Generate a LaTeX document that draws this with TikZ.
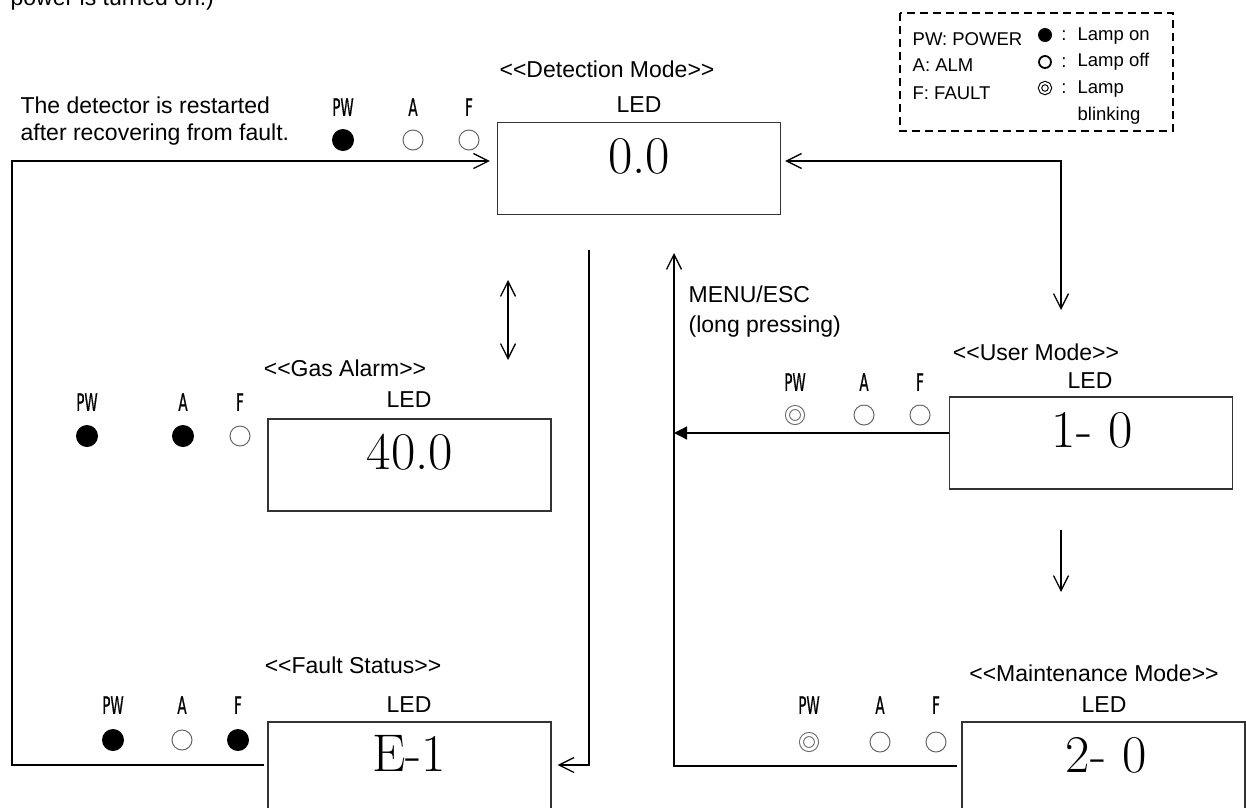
\documentclass[tikz,border=0pt]{standalone}
\usepackage{fontspec}
\newfontfamily\guifont{Liberation Sans}
\newfontfamily\lampfont[FakeStretch=0.56,FakeBold=0.6]{DejaVu Sans}
\usetikzlibrary{arrows.meta}

\begin{document}
\begin{tikzpicture}[x = 1pt, y = -1pt, line width = 1.3pt,
    every node/.style = {inner sep = 0pt, font = \guifont\fontsize{23}{27}\selectfont},
    ledbox/.style = {draw = black!80, line width = 1.2pt, minimum width = 283pt, minimum height = 92pt},
    ledval/.style = {font = \rmfamily\fontsize{53}{53}\selectfont},
    lamptxt/.style = {font = \lampfont\fontsize{24}{24}\selectfont},
    legtxt/.style = {font = \guifont\fontsize{18.5}{22}\selectfont},
    lampon/.style = {shape = circle, fill = black, minimum size = 22pt},
    lampoff/.style = {shape = circle, draw = black!60, line width = 1pt, minimum size = 20pt},
    lampblink/.style = {shape = circle, draw = black!60, line width = 1pt, double = white, double distance = 3pt, minimum size = 15pt},
    legon/.style = {shape = circle, fill = black, minimum size = 14pt},
    legoff/.style = {shape = circle, draw = black, line width = 1.8pt, minimum size = 12pt},
    legblink/.style = {shape = circle, draw = black, line width = 1.1pt, double = white, double distance = 2pt, minimum size = 10pt},
    barb/.style = {-{Straight Barb[length = 15pt, width = 15pt]}},
    dbarb/.style = {{Straight Barb[length = 15pt, width = 15pt]}-{Straight Barb[length = 15pt, width = 15pt]}},
    tri/.style = {-{Triangle[length = 13pt, width = 13pt]}}]
    \useasboundingbox (0,0) rectangle (1246,807);
    \clip (0,0) rectangle (1246,807);

    \node[anchor = base west] (poweron) at (10,5) {power is turned on.)};

    % legend
    \draw[line width = 1.8pt, dash pattern = on 8pt off 5pt] (900,13) rectangle (1173,131);
    \node[legtxt, anchor = west] (kpw) at (912,39) {PW: POWER};
    \node[legtxt, anchor = west] (ka) at (912,65) {A: ALM};
    \node[legtxt, anchor = west] (kf) at (912,93) {F: FAULT};
    \node[legon] (kon) at (1045,35) {};
    \node[legoff] (koff) at (1045,62) {};
    \node[legblink] (kblink) at (1045,88) {};
    \node[legtxt] (kc1) at (1064,36) {:};
    \node[legtxt] (kc2) at (1064,63) {:};
    \node[legtxt] (kc3) at (1064,89) {:};
    \node[legtxt, anchor = west] (kont) at (1077,36) {Lamp on};
    \node[legtxt, anchor = west] (kofft) at (1077,62) {Lamp off};
    \node[legtxt, anchor = west] (kblinkt) at (1077,89) {Lamp};
    \node[legtxt, anchor = west] (kblinkt2) at (1077,116) {blinking};

    % detection mode
    \node (dettitle) at (607,69) {<<Detection Mode>>};
    \node (detled) at (639,105) {LED};
    \node[ledbox] (det) at (639,168.5) {};
    \node[ledval] (detval) at (639,156) {0.0};
    \node[lamptxt] (detpwt) at (343,107) {PW};
    \node[lamptxt] (detat) at (413,107) {A};
    \node[lamptxt] (detft) at (469,107) {F};
    \node[lampon] (detpw) at (343,140) {};
    \node[lampoff] (deta) at (413,140) {};
    \node[lampoff] (detf) at (469,140) {};
    \node[align = left, anchor = west] (restart) at (20,121.5) {The detector is restarted\\after recovering from fault.};

    % gas alarm
    \node (gastitle) at (345,368) {<<Gas Alarm>>};
    \node (gasled) at (409,400) {LED};
    \node[ledbox] (gas) at (409.5,465) {};
    \node[ledval] (gasval) at (410,452) {40.0};
    \node[lamptxt] (gaspwt) at (87,402) {PW};
    \node[lamptxt] (gasat) at (183,402) {A};
    \node[lamptxt] (gasft) at (240,402) {F};
    \node[lampon] (gaspw) at (87,436) {};
    \node[lampon] (gasa) at (183,436) {};
    \node[lampoff] (gasf) at (240,436) {};

    % fault status
    \node (flttitle) at (353,665) {<<Fault Status>>};
    \node (fltled) at (409,705) {LED};
    \node[ledbox] (flt) at (409.5,768) {};
    \node[ledval] (fltval) at (409,753) {E-1};
    \node[lamptxt] (fltpwt) at (113,705) {PW};
    \node[lamptxt] (fltat) at (182,705) {A};
    \node[lamptxt] (fltft) at (238,705) {F};
    \node[lampon] (fltpw) at (113,740) {};
    \node[lampoff] (flta) at (182,740) {};
    \node[lampon] (fltf) at (238,740) {};

    % user mode
    \node (usrtitle) at (1036,352) {<<User Mode>>};
    \node (usrled) at (1090,381) {LED};
    \node[ledbox] (usr) at (1091,443) {};
    \node[ledval] (usrval) at (1092,430) {1- 0};
    \node[lamptxt] (usrpwt) at (795,382) {PW};
    \node[lamptxt] (usrat) at (864,382) {A};
    \node[lamptxt] (usrft) at (920,382) {F};
    \node[lampblink] (usrpw) at (795,415) {};
    \node[lampoff] (usra) at (864,415) {};
    \node[lampoff] (usrf) at (920,415) {};
    \node[align = left, anchor = west, font = \guifont\fontsize{23}{30}\selectfont] (menu) at (688,312) {MENU/ESC\\(long pressing)};

    % maintenance mode
    \node (mnttitle) at (1094,673) {<<Maintenance Mode>>};
    \node (mntled) at (1104,705) {LED};
    \node[ledbox] (mnt) at (1103.5,768) {};
    \node[ledval] (mntval) at (1106,755) {2- 0};
    \node[lamptxt] (mntpwt) at (809,705) {PW};
    \node[lamptxt] (mntat) at (880,705) {A};
    \node[lamptxt] (mntft) at (936,705) {F};
    \node[lampblink] (mntpw) at (809,742) {};
    \node[lampoff] (mnta) at (880,742) {};
    \node[lampoff] (mntf) at (936,742) {};

    % connectors
    \coordinate (lbot) at (12,765);
    \coordinate (ltop) at (12,161);
    \draw[barb, shorten <= 3pt, shorten >= 7pt] (flt.west |- lbot) -- (lbot) -- (ltop) -- (det.west |- ltop);
    \coordinate (rtop) at (1061,161);
    \coordinate (rbot) at (1061,310);
    \draw[dbarb, shorten <= 4pt] (det.east |- rtop) -- (rtop) -- (rbot);
    \coordinate (gtop) at (508,280);
    \coordinate (gbot) at (508,360);
    \draw[dbarb] (gtop) -- (gbot);
    \coordinate (ftop) at (589,250);
    \coordinate (fbot) at (589,765);
    \draw[barb, shorten >= 6pt] (ftop) -- (fbot) -- (flt.east |- fbot);
    \coordinate (mtop) at (674,253);
    \coordinate (mbot) at (674,766);
    \draw[barb, shorten <= 4pt] (mnt.west |- mbot) -- (mbot) -- (mtop);
    \coordinate (uarr) at (674,433);
    \draw[tri] (usr.west |- uarr) -- (uarr);
    \coordinate (udtop) at (1061,530);
    \coordinate (udbot) at (1061,592);
    \draw[barb] (udtop) -- (udbot);
\end{tikzpicture}
\end{document}
